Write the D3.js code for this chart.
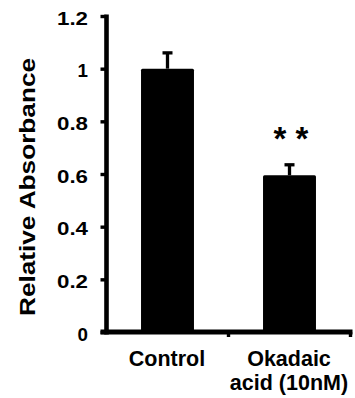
<!DOCTYPE html>
<html>
<head>
<meta charset="utf-8">
<script src="https://cdn.jsdelivr.net/npm/d3@7"></script>
<style>
  html, body { margin: 0; padding: 0; background: #fff; }
  svg { display: block; }
  text { font-family: "Liberation Sans", Arial, sans-serif; font-weight: bold; fill: #000; }
</style>
</head>
<body>
<svg id="chart" width="355" height="398"></svg>
<script>
// ---- data ----
const categories = ["Control", "Okadaic acid (10nM)"];
const categoryLines = [["Control"], ["Okadaic", "acid (10nM)"]];
const values = [1.0, 0.595];
const errors = [0.06, 0.04];
const significance = ["", "* *"];
const yTicks = [0, 0.2, 0.4, 0.6, 0.8, 1, 1.2];
const yTickLabels = ["0", "0.2", "0.4", "0.6", "0.8", "1", "1.2"];
const yLabel = "Relative Absorbance";

// ---- layout ----
const svg = d3.select("#chart");
const x0 = 106.5, x1 = 350.5, yBottom = 332, yTop = 16;

const x = d3.scaleBand().domain(categories).range([x0, x1])
  .paddingInner(0.566).paddingOuter(0.283);
const y = d3.scaleLinear().domain([0, 1.2]).range([yBottom, yTop]);

// bars
svg.append("g").selectAll("rect").data(categories).join("rect")
  .attr("x", d => x(d))
  .attr("width", x.bandwidth())
  .attr("y", (d, i) => y(values[i]))
  .attr("height", (d, i) => y(0) - y(values[i]))
  .attr("rx", 1.5)
  .attr("fill", "#000");

// error bars
const eg = svg.append("g");
categories.forEach((c, i) => {
  const cx = x(c) + x.bandwidth() / 2;
  eg.append("line")
    .attr("x1", cx).attr("x2", cx)
    .attr("y1", y(values[i])).attr("y2", y(values[i] + errors[i]))
    .attr("stroke", "#000").attr("stroke-width", 3.3);
  eg.append("line")
    .attr("x1", cx - 5).attr("x2", cx + 5)
    .attr("y1", y(values[i] + errors[i])).attr("y2", y(values[i] + errors[i]))
    .attr("stroke", "#000").attr("stroke-width", 3.3);
  if (significance[i]) {
    eg.append("text")
      .attr("x", cx + 1.5).attr("y", y(values[i] + errors[i]) - 15)
      .attr("text-anchor", "middle")
      .style("font-size", "33px")
      .text(significance[i]);
  }
});

// y axis
const yAxis = d3.axisLeft(y).tickValues(yTicks).tickSize(6)
  .tickFormat((d, i) => yTickLabels[i]);
const gy = svg.append("g").attr("transform", `translate(${x0},0)`).call(yAxis);
gy.select(".domain").remove();
gy.selectAll(".tick line").attr("stroke", "#000").attr("stroke-width", 3.4);
gy.selectAll(".tick text")
  .attr("x", -18.5).attr("dy", null).attr("y", 8.1)
  .style("font-size", "18.8px")
  .style("font-family", "Liberation Sans, Arial, sans-serif")
  .style("font-weight", "bold")
  .each(function (d, i) {
    if (yTickLabels[i].length > 1) {
      d3.select(this).attr("textLength", 31).attr("lengthAdjust", "spacingAndGlyphs");
    }
  });
svg.append("line")
  .attr("x1", x0).attr("x2", x0)
  .attr("y1", yTop - 1.5).attr("y2", yBottom + 2.5)
  .attr("stroke", "#000").attr("stroke-width", 4.6);

// x axis
svg.append("line")
  .attr("x1", x0 - 6).attr("x2", x1 + 2)
  .attr("y1", yBottom).attr("y2", yBottom)
  .attr("stroke", "#000").attr("stroke-width", 5);
const xTickPos = [x(categories[1]) - x.paddingInner() * x.step() / 2, x1];
svg.append("g").selectAll("line").data(xTickPos).join("line")
  .attr("x1", d => d).attr("x2", d => d)
  .attr("y1", yBottom).attr("y2", yBottom + 5)
  .attr("stroke", "#000").attr("stroke-width", 3.4);

// category labels
categories.forEach((c, i) => {
  const cx = x(c) + x.bandwidth() / 2;
  categoryLines[i].forEach((line, j) => {
    svg.append("text")
      .attr("x", cx - 0.5).attr("y", 366 + j * 24)
      .attr("text-anchor", "middle")
      .style("font-size", "21.5px")
      .text(line);
  });
});

// y label
svg.append("text")
  .attr("transform", "translate(34.5,187) rotate(-90)")
  .attr("text-anchor", "middle")
  .attr("textLength", 258)
  .attr("lengthAdjust", "spacingAndGlyphs")
  .style("font-size", "22.5px")
  .text(yLabel);
</script>
</body>
</html>
